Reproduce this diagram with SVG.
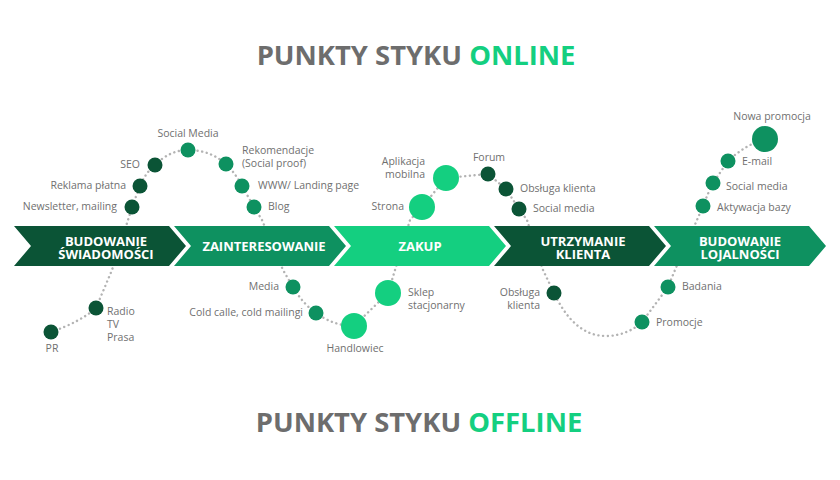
<svg xmlns="http://www.w3.org/2000/svg" width="840" height="480" viewBox="0 0 840 480">
  <defs>
    <style>
      .title { font-family: "Open Sans", "Liberation Sans", sans-serif; font-weight: 700; font-size: 27.4px; fill: #6d6d6d; }
      .title .hl { fill: #14cf80; }
      .lbl { font-family: "Open Sans", "Liberation Sans", sans-serif; font-size: 10.5px; fill: #707070; }
      .stage { font-family: "Open Sans", "Liberation Sans", sans-serif; font-weight: 700; font-size: 13px; fill: #ffffff; text-anchor: middle; }
      .r { text-anchor: end; }
      .m { text-anchor: middle; }
      .dark { fill: #0b5436; }
      .mid { fill: #0e9160; }
      .bright { fill: #14cf80; }
      .path { fill: none; stroke: #b3b3b3; stroke-width: 2.4; stroke-dasharray: 0.1 4.6; stroke-linecap: round; }
    </style>
    <polygon id="chevron" points="0,0 155,0 172,20 155,40 0,40 17,20"/>
  </defs>

  <rect width="840" height="480" fill="#ffffff"/>

  <text class="title" x="416" y="65" text-anchor="middle">PUNKTY STYKU <tspan class="hl">ONLINE</tspan></text>
  <text class="title" x="419" y="432" text-anchor="middle">PUNKTY STYKU <tspan class="hl">OFFLINE</tspan></text>

  <!-- customer journey line -->
  <g id="connectors">
    <path class="path" d="M51,332 Q80,322 96,308 L112,270 L128,220 L132,207 L140,186 Q146,172 155,165 Q170,150 188,150 Q210,150 226,164 Q236,174 242,186 L254,207 L262,220 L283,270 L293,287 Q303,304 316,313 Q334,326 354,326 L388,293 L395,270 L410,220 L422,207 L446,178 L488,174 L506,189 L519,209 L527,220 L543,270 L554,293 C566,318 582,336 606,336 C622,336 635,329 642,322 L668,287 L675,270 L697,220 L703,206 Q708,193 713,183 L728,161 Q745,145 765,139"/>
  </g>

  <!-- stages -->
  <g id="stage-awareness">
    <use href="#chevron" x="14" y="226" class="dark"/>
    <text class="stage" x="106" y="245.5">BUDOWANIE<tspan x="106" dy="13">ŚWIADOMOŚCI</tspan></text>
  </g>
  <g id="stage-interest">
    <use href="#chevron" x="174" y="226" class="mid"/>
    <text class="stage" x="264" y="250.5">ZAINTERESOWANIE</text>
  </g>
  <g id="stage-purchase">
    <use href="#chevron" x="334" y="226" class="bright"/>
    <text class="stage" x="420" y="250.5">ZAKUP</text>
  </g>
  <g id="stage-retention">
    <use href="#chevron" x="494" y="226" class="dark"/>
    <text class="stage" x="583" y="245.5">UTRZYMANIE<tspan x="583" dy="13">KLIENTA</tspan></text>
  </g>
  <g id="stage-loyalty">
    <use href="#chevron" x="654" y="226" class="mid"/>
    <text class="stage" x="740" y="245.5">BUDOWANIE<tspan x="740" dy="13">LOJALNOŚCI</tspan></text>
  </g>

  <!-- online touchpoints -->
  <g id="newsletter"><circle class="dark" cx="132" cy="207" r="7.5"/><text class="lbl r" x="117" y="210">Newsletter, mailing</text></g>
  <g id="reklama"><circle class="dark" cx="140" cy="186" r="7.5"/><text class="lbl r" x="126" y="189">Reklama płatna</text></g>
  <g id="seo"><circle class="dark" cx="155" cy="165" r="7.5"/><text class="lbl r" x="140" y="168">SEO</text></g>
  <g id="social-media-1"><circle class="mid" cx="188" cy="150" r="7.5"/><text class="lbl m" x="188" y="137">Social Media</text></g>
  <g id="rekomendacje"><circle class="mid" cx="226" cy="164" r="7.5"/><text class="lbl" x="242" y="153.5">Rekomendacje</text><text class="lbl" x="242" y="167">(Social proof)</text></g>
  <g id="www"><circle class="mid" cx="242" cy="186" r="7.5"/><text class="lbl" x="258" y="189">WWW/ Landing page</text></g>
  <g id="blog"><circle class="mid" cx="254" cy="207" r="7.5"/><text class="lbl" x="268" y="210">Blog</text></g>

  <g id="strona"><circle class="bright" cx="422" cy="207" r="13"/><text class="lbl r" x="404" y="210">Strona</text></g>
  <g id="aplikacja"><circle class="bright" cx="446" cy="178" r="13"/><text class="lbl r" x="425" y="164.5">Aplikacja</text><text class="lbl r" x="425" y="178">mobilna</text></g>
  <g id="forum"><circle class="dark" cx="488" cy="174" r="7.5"/><text class="lbl m" x="489" y="161">Forum</text></g>
  <g id="obsluga-online"><circle class="dark" cx="506" cy="189" r="7.5"/><text class="lbl" x="520" y="192">Obsługa klienta</text></g>
  <g id="social-media-2"><circle class="dark" cx="519" cy="209" r="7.5"/><text class="lbl" x="533" y="212">Social media</text></g>

  <g id="aktywacja"><circle class="mid" cx="703" cy="206" r="7.5"/><text class="lbl" x="717" y="211">Aktywacja bazy</text></g>
  <g id="social-media-3"><circle class="mid" cx="713" cy="183" r="7.5"/><text class="lbl" x="726" y="190">Social media</text></g>
  <g id="email"><circle class="mid" cx="728" cy="161" r="7.5"/><text class="lbl" x="742" y="165">E-mail</text></g>
  <g id="nowa-promocja"><circle class="mid" cx="765" cy="139" r="13"/><text class="lbl m" x="772" y="120">Nowa promocja</text></g>

  <!-- offline touchpoints -->
  <g id="pr"><circle class="dark" cx="51" cy="332" r="7.5"/><text class="lbl m" x="52" y="352">PR</text></g>
  <g id="radio"><circle class="dark" cx="96" cy="308" r="7.5"/><text class="lbl" x="107" y="315">Radio</text><text class="lbl" x="107" y="328">TV</text><text class="lbl" x="107" y="341">Prasa</text></g>
  <g id="media"><circle class="mid" cx="293" cy="287" r="7.5"/><text class="lbl r" x="279" y="290">Media</text></g>
  <g id="cold"><circle class="mid" cx="316" cy="313" r="7.5"/><text class="lbl r" x="303" y="316">Cold calle,  cold mailingi</text></g>
  <g id="handlowiec"><circle class="bright" cx="354" cy="326" r="13"/><text class="lbl m" x="355" y="352">Handlowiec</text></g>
  <g id="sklep"><circle class="bright" cx="388" cy="293" r="13"/><text class="lbl" x="408" y="295.5">Sklep</text><text class="lbl" x="408" y="309">stacjonarny</text></g>
  <g id="obsluga-offline"><circle class="dark" cx="554" cy="293" r="7.5"/><text class="lbl r" x="540" y="295.5">Obsługa</text><text class="lbl r" x="540" y="309">klienta</text></g>
  <g id="promocje"><circle class="mid" cx="642" cy="322" r="7.5"/><text class="lbl" x="656" y="326">Promocje</text></g>
  <g id="badania"><circle class="mid" cx="668" cy="287" r="7.5"/><text class="lbl" x="682" y="290">Badania</text></g>
</svg>
